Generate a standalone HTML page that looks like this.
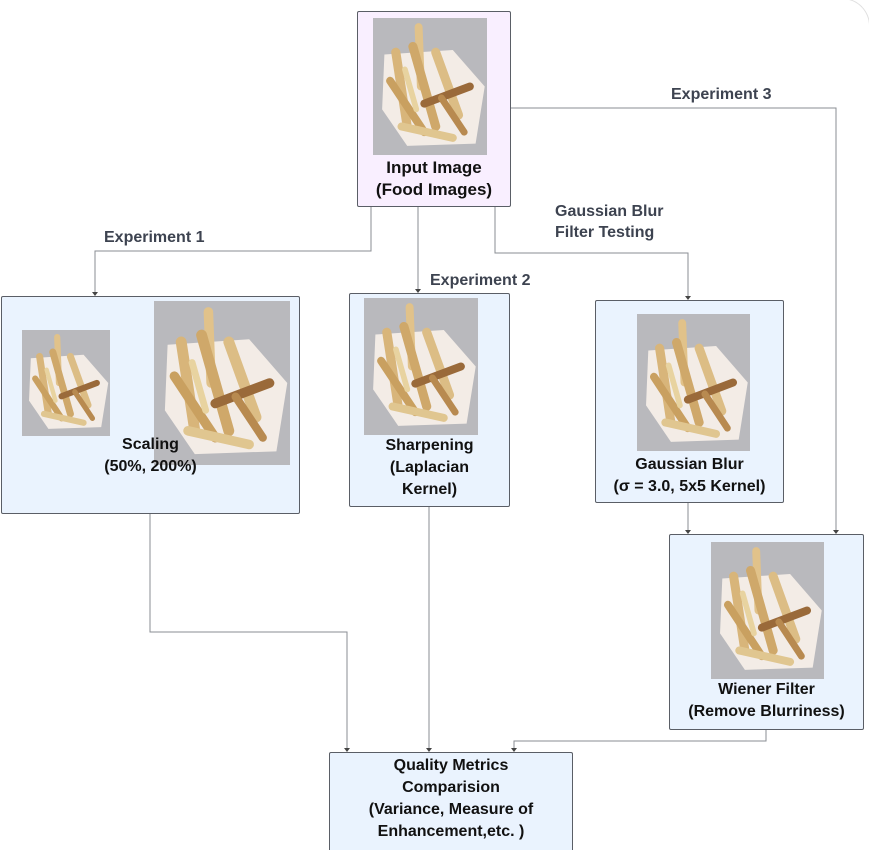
<!DOCTYPE html>
<html><head><meta charset="utf-8"><style>
html,body{margin:0;width:869px;height:850px;overflow:hidden}
body{background:#fff;position:relative;font-family:"Liberation Sans",Arial,sans-serif}
.box{position:absolute;box-sizing:border-box;border:1px solid #5a5e66;border-radius:2px;background:#eaf3fe}
.t{position:absolute;font-weight:bold;color:#111;font-size:16px;line-height:22px;text-align:center;white-space:nowrap}
.l{position:absolute;font-weight:bold;color:#3d4350;font-size:16px;line-height:21px;white-space:nowrap}
svg.img{position:absolute}
</style></head><body>
<svg width="0" height="0" style="position:absolute">
<defs>
<symbol id="fr" viewBox="0 0 100 120" preserveAspectRatio="none">
<rect width="100" height="120" fill="#b9b9bd"/>
<polygon points="10,32 70,28 98,60 90,110 30,112 8,80" fill="#f3ece6"/>
<g stroke-linecap="round" fill="none">
<path d="M40,8 L42,60" stroke="#e1c28a" stroke-width="7"/>
<path d="M20,30 L30,95" stroke="#d8b57a" stroke-width="8"/>
<path d="M35,25 L55,95" stroke="#cfa86a" stroke-width="8"/>
<path d="M55,30 L75,85" stroke="#dcbd85" stroke-width="8"/>
<path d="M15,55 L45,100" stroke="#c9a060" stroke-width="7"/>
<path d="M45,75 L85,60" stroke="#9a6a3a" stroke-width="7"/>
<path d="M25,95 L70,105" stroke="#e0c690" stroke-width="7"/>
<path d="M60,70 L80,100" stroke="#b88a50" stroke-width="6"/>
<path d="M28,45 L38,80" stroke="#e8d3a0" stroke-width="5"/>
</g>
</symbol>
</defs></svg>

<div style="position:absolute;left:0;top:-2px;width:870px;height:852px;border:1px solid #e0e0e0;border-left:none;border-bottom:none;border-radius:0 28px 0 0;box-sizing:border-box"></div>

<svg width="869" height="850" style="position:absolute;left:0;top:0" fill="none" stroke="#8a8d93" stroke-width="1">
<path d="M371,206V251H95V293"/>
<path d="M418,206V290"/>
<path d="M495,206V253H688V297"/>
<path d="M510,108H836V531"/>
<path d="M688,502V531"/>
<path d="M150,513V632H347V749"/>
<path d="M429,506V749"/>
<path d="M766,729V741H514V749"/>
<g fill="#444" stroke="none">
<path d="M92,292h6l-3,4z"/><path d="M415,289h6l-3,4z"/><path d="M685,296h6l-3,4z"/>
<path d="M833,530h6l-3,4z"/><path d="M685,530h6l-3,4z"/>
<path d="M344,748h6l-3,4z"/><path d="M426,748h6l-3,4z"/><path d="M511,748h6l-3,4z"/>
</g>
</svg>

<div class="box" style="left:357px;top:11px;width:154px;height:196px;background:#f9efff"></div>
<svg class="img" style="left:373px;top:18px" width="114" height="137"><use href="#fr"/></svg>
<div class="t" style="left:357px;width:154px;top:157px;font-size:17px">Input Image<br>(Food Images)</div>

<div class="l" style="left:104px;top:227px">Experiment 1</div>
<div class="l" style="left:430px;top:270px">Experiment 2</div>
<div class="l" style="left:555px;top:201px">Gaussian Blur<br>Filter Testing</div>
<div class="l" style="left:671px;top:84px">Experiment 3</div>

<div class="box" style="left:1px;top:296px;width:299px;height:218px"></div>
<svg class="img" style="left:22px;top:330px" width="88" height="106"><use href="#fr"/></svg>
<svg class="img" style="left:154px;top:301px" width="136" height="164"><use href="#fr"/></svg>
<div class="t" style="left:1px;width:299px;top:434px">Scaling<br>(50%, 200%)</div>

<div class="box" style="left:349px;top:293px;width:161px;height:214px"></div>
<svg class="img" style="left:364px;top:298px" width="114" height="137"><use href="#fr"/></svg>
<div class="t" style="left:349px;width:161px;top:435px">Sharpening<br>(Laplacian<br>Kernel)</div>

<div class="box" style="left:595px;top:300px;width:189px;height:203px"></div>
<svg class="img" style="left:637px;top:314px" width="113" height="137"><use href="#fr"/></svg>
<div class="t" style="left:595px;width:189px;top:454px">Gaussian Blur<br>(σ = 3.0, 5x5 Kernel)</div>

<div class="box" style="left:669px;top:534px;width:195px;height:196px"></div>
<svg class="img" style="left:711px;top:542px" width="113" height="137"><use href="#fr"/></svg>
<div class="t" style="left:669px;width:195px;top:679px">Wiener Filter<br>(Remove Blurriness)</div>

<div class="box" style="left:329px;top:752px;width:244px;height:98px;border-bottom:none;border-radius:2px 2px 0 0"></div>
<div class="t" style="left:329px;width:244px;top:755px">Quality Metrics<br>Comparision<br>(Variance, Measure of<br>Enhancement,etc. )</div>
</body></html>
